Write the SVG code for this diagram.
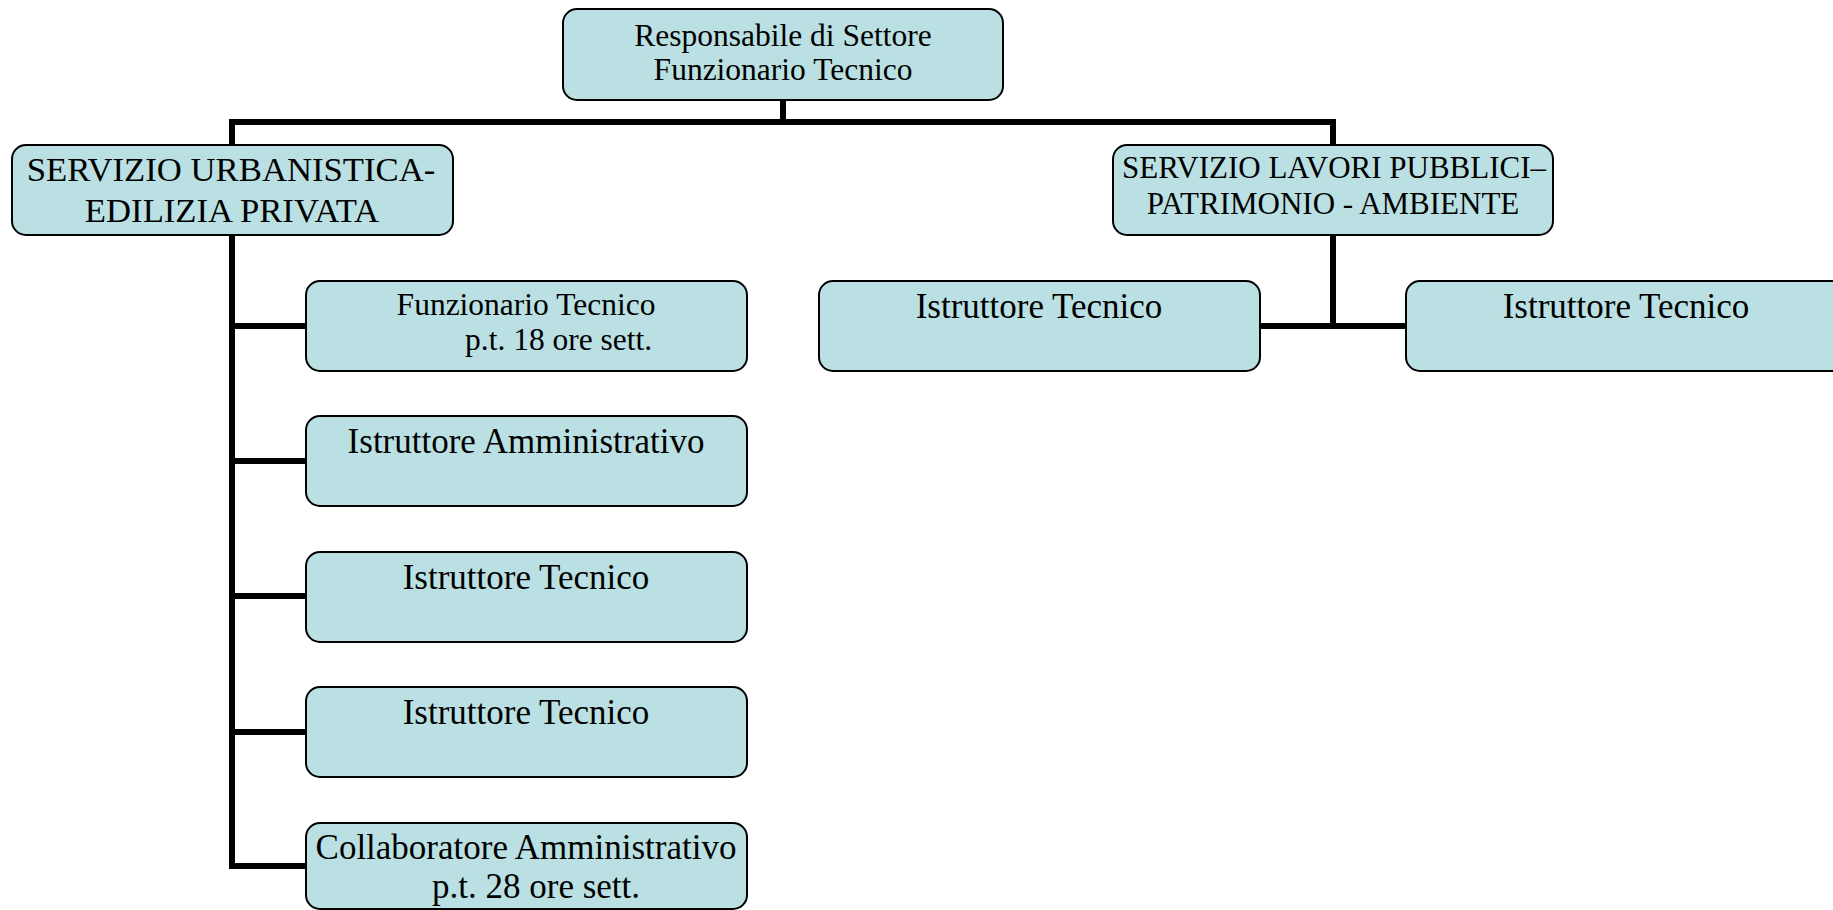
<svg xmlns="http://www.w3.org/2000/svg" width="1833" height="910" viewBox="0 0 1833 910">
  <style>
    .box { fill: #BAE0E3; stroke: #000; stroke-width: 2; }
    .conn { fill: none; stroke: #000; stroke-width: 6; stroke-linejoin: miter; stroke-linecap: butt; }
    text { font-family: "Liberation Serif", "Times New Roman", serif; fill: #000; }
    .c { text-anchor: middle; }
    .f31 { font-size: 31.5px; }
    .f30 { font-size: 31px; }
    .f34 { font-size: 34.7px; }
    .f35 { font-size: 35px; }
  </style>
  <rect width="1833" height="910" fill="#fff"/>
  <g id="connectors">
    <path class="conn" d="M306,866 H232 V122 H1333 V326"/>
    <path class="conn" d="M783,100 V122"/>
    <path class="conn" d="M232,326 H306"/>
    <path class="conn" d="M232,461 H306"/>
    <path class="conn" d="M232,596 H306"/>
    <path class="conn" d="M232,732 H306"/>
    <path class="conn" d="M1260,326 H1406"/>
  </g>
  <g id="node-responsabile">
    <rect class="box" x="563" y="9" width="440" height="91" rx="14"/>
    <text class="c f31" x="783" y="46">Responsabile di Settore</text>
    <text class="c f31" x="783" y="80">Funzionario Tecnico</text>
  </g>
  <g id="node-urbanistica">
    <rect class="box" x="12" y="145" width="441" height="90" rx="14"/>
    <text class="c f34" x="231" y="181">SERVIZIO URBANISTICA-</text>
    <text class="c f34" x="232" y="222">EDILIZIA PRIVATA</text>
  </g>
  <g id="node-lavori">
    <rect class="box" x="1113" y="145" width="440" height="90" rx="14"/>
    <text class="c f30" x="1334" y="178">SERVIZIO LAVORI PUBBLICI–</text>
    <text class="c f30" x="1333" y="214">PATRIMONIO - AMBIENTE</text>
  </g>
  <g id="node-funzionario">
    <rect class="box" x="306" y="281" width="441" height="90" rx="14"/>
    <text class="c f31" x="526" y="315">Funzionario Tecnico</text>
    <text class="f31" x="465" y="350">p.t. 18 ore sett.</text>
  </g>
  <g id="node-istr-amm">
    <rect class="box" x="306" y="416" width="441" height="90" rx="14"/>
    <text class="c f35" x="526" y="453">Istruttore Amministrativo</text>
  </g>
  <g id="node-istr-tec-1">
    <rect class="box" x="306" y="552" width="441" height="90" rx="14"/>
    <text class="c f35" x="526" y="589">Istruttore Tecnico</text>
  </g>
  <g id="node-istr-tec-2">
    <rect class="box" x="306" y="687" width="441" height="90" rx="14"/>
    <text class="c f35" x="526" y="724">Istruttore Tecnico</text>
  </g>
  <g id="node-collaboratore">
    <rect class="box" x="306" y="823" width="441" height="86" rx="14"/>
    <text class="c f35" x="526" y="859">Collaboratore Amministrativo</text>
    <text class="f35" x="432" y="898">p.t. 28 ore sett.</text>
  </g>
  <g id="node-istr-tec-3">
    <rect class="box" x="819" y="281" width="441" height="90" rx="14"/>
    <text class="c f35" x="1039" y="318">Istruttore Tecnico</text>
  </g>
  <g id="node-istr-tec-4">
    <rect class="box" x="1406" y="281" width="441" height="90" rx="14"/>
    <text class="c f35" x="1626" y="318">Istruttore Tecnico</text>
  </g>
</svg>
